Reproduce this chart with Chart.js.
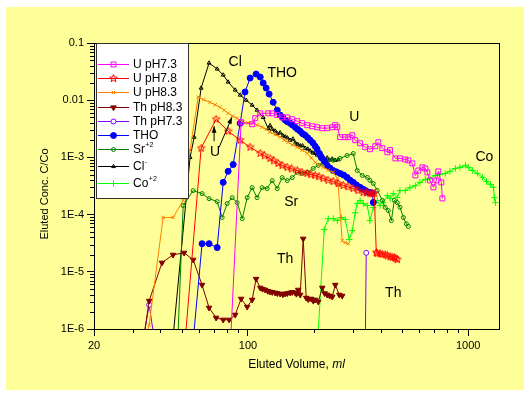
<!DOCTYPE html>
<html>
<head>
<meta charset="utf-8">
<script src="https://cdn.jsdelivr.net/npm/chart.js@4.4.1/dist/chart.umd.min.js"></script>
<style>
  html, body { margin: 0; padding: 0; background: #fff; }
</style>
</head>
<body>
<canvas id="elution" width="530" height="397"></canvas>
<script>
// eluted volume (ml) / C/Co
const uph73X = [83.2, 93.1, 104.5, 107.9, 113.7, 123.6, 128.9, 135.8, 143, 150.8, 158.9, 167.4, 176.3, 185.8, 195.8, 206.3, 217.5, 229, 241.5, 249.2, 254.5, 262, 276.6, 285.5, 297.7, 307, 323, 341, 358, 378.6, 391, 407.6, 429.5, 442, 467, 490, 518, 535, 557.5, 575.5, 594, 619.6, 639, 652.6, 670, 695.5, 717, 732, 755, 763.6];
const uph73Y = [5e-7, 0.00412, 0.0038, 0.00484, 0.0059, 0.0059, 0.0059, 0.0055, 0.005, 0.005, 0.00465, 0.0043, 0.00396, 0.00366, 0.0035, 0.00337, 0.00324, 0.00324, 0.00337, 0.00366, 0.00337, 0.00226, 0.00226, 0.00226, 0.00244, 0.002, 0.00177, 0.00151, 0.00139, 0.00157, 0.00184, 0.00145, 0.00123, 0.00134, 9.6e-4, 9.6e-4, 9.2e-4, 8.9e-4, 7.85e-4, 4.84e-4, 5.9e-4, 6.7e-4, 6.4e-4, 5.47e-4, 3.96e-4, 3.0e-4, 3.96e-4, 5.7e-4, 3.66e-4, 1.92e-4];

const uph78X = [51.6, 61.3, 71.7, 81.3, 92.2, 102.3, 113.7, 119, 126, 131, 137.2, 143, 150.8, 158, 167.4, 176, 185.8, 193, 202, 210, 219.6, 231, 244, 257, 271, 285, 300.7, 316, 334, 346, 358, 366, 374.6, 382.6, 386.6, 398, 407.6, 420, 429.5, 442, 452, 462, 469, 476.6];
const uph78Y = [5e-7, 0.00145, 0.00465, 0.00287, 0.002, 0.00151, 0.00118, 0.00107, 9.6e-4, 8.7e-4, 7.85e-4, 7.2e-4, 6.7e-4, 6.3e-4, 5.9e-4, 5.5e-4, 5.25e-4, 5.0e-4, 4.84e-4, 4.6e-4, 4.3e-4, 4.0e-4, 3.8e-4, 3.5e-4, 3.24e-4, 3.05e-4, 2.87e-4, 2.65e-4, 2.44e-4, 2.4e-4, 2.35e-4, 2.3e-4, 2.35e-4, 2.17e-5, 2.1e-5, 2.07e-5, 2.03e-5, 1.99e-5, 1.9e-5, 1.84e-5, 1.8e-5, 1.77e-5, 1.7e-5, 1.63e-5];

const uph83X = [33.4, 35.6, 41.2, 45.7, 50.8, 54.6, 59.4, 63, 67.3, 71, 74.8, 78, 81.3, 85, 89.3, 94.9, 100, 105.6, 110, 116, 121, 126, 133, 140, 146, 152.4, 159, 167.4, 176, 185.8, 194, 202, 210, 219.6, 231, 244, 254.5, 257, 267.9, 276.6, 285.5];
const uph83Y = [5e-7, 1.18e-6, 8.9e-5, 8.9e-5, 1.76e-4, 0.00134, 0.0113, 0.0102, 0.0092, 0.0083, 0.0075, 0.0067, 0.0059, 0.0053, 0.00484, 0.00412, 0.0040, 0.00396, 0.0037, 0.00337, 0.0031, 0.00276, 0.0025, 0.00226, 0.0020, 0.00184, 0.00166, 0.00151, 0.00134, 0.00118, 9.8e-4, 8.2e-4, 7.4e-4, 6.7e-4, 6.0e-4, 5.47e-4, 4.3e-4, 3.24e-4, 3.5e-5, 3.24e-5, 3.1e-5];

const thph83X = [33.2, 35.6, 40.7, 45.7, 51.3, 56.4, 61.9, 66.6, 71.7, 77.2, 82.2, 87.5, 93.1, 99.2, 104.5, 108.9, 113.7, 116.5, 119.7, 123, 126, 129, 132.9, 136, 140, 144, 147.6, 151, 155.6, 159, 163.9, 166, 169.1, 172.7, 178.2, 183.9, 188, 193.7, 198, 202, 208.6, 217.5, 223, 229, 235, 241.5, 249.2, 259.9, 267.9];
const thph83Y = [5e-7, 3.1e-6, 1.44e-5, 1.98e-5, 2.15e-5, 1.62e-5, 5.9e-6, 2.35e-6, 1.57e-6, 1.45e-6, 1.45e-6, 1.77e-6, 3.37e-6, 2.44e-6, 3.24e-6, 7.5e-6, 5.25e-6, 5.0e-6, 4.84e-6, 4.6e-6, 4.47e-6, 4.4e-6, 4.3e-6, 4.2e-6, 4.13e-6, 4.0e-6, 4.13e-6, 4.2e-6, 4.3e-6, 4.4e-6, 4.3e-6, 4.1e-6, 4.84e-6, 3.96e-6, 3.78e-5, 3.5e-6, 3.3e-6, 3.37e-6, 3.1e-6, 3.24e-6, 3.0e-6, 5.25e-6, 4.2e-6, 3.96e-6, 3.8e-6, 3.66e-6, 5.9e-6, 3.96e-6, 3.8e-6];

const thph73X = [33.1, 35.6, 38.0, 341, 344.4];
const thph73Y = [5e-7, 2.65e-6, 5e-7, 5e-7, 2.15e-5];

const thoX = [56.1, 61.9, 66.6, 72.5, 77.2, 81.3, 85.7, 92.2, 97.0, 102.3, 108.9, 113.7, 117.3, 121, 124.8, 130.2, 135.8, 140, 144, 147.6, 151, 155.6, 159, 163.9, 168, 172.7, 177, 182, 187, 191.7, 197, 202, 206, 210.8, 214, 217.5, 223, 229, 236, 244, 252, 262, 272, 282, 291, 300.7, 311, 323, 332, 341, 349, 358, 364, 366.9, 370.8];
const thoY = [5e-7, 3.1e-5, 3.1e-5, 2.65e-5, 3.66e-4, 5.7e-4, 7.5e-4, 0.00396, 0.0139, 0.0244, 0.0287, 0.0254, 0.02, 0.0163, 0.0128, 0.0092, 0.0067, 0.0055, 0.0050, 0.0045, 0.0042, 0.00396, 0.0037, 0.00337, 0.0031, 0.00287, 0.0026, 0.00244, 0.0022, 0.002, 0.0018, 0.00157, 0.0014, 0.00118, 0.00105, 9.6e-4, 8.5e-4, 7.25e-4, 6.5e-4, 5.9e-4, 5.6e-4, 5.25e-4, 4.9e-4, 4.47e-4, 4.0e-4, 3.66e-4, 3.3e-4, 3.0e-4, 2.8e-4, 2.65e-4, 2.5e-4, 2.44e-4, 2.4e-4, 2.35e-4, 1.63e-4];

const srX = [47.9, 50.8, 56.4, 61.9, 66.6, 72.5, 76.4, 80.5, 84.8, 89.3, 94.2, 99.2, 104.5, 110, 116, 122.2, 128.9, 135.8, 143, 150.8, 158.9, 167.4, 176.3, 185.8, 197.9, 208.6, 219.6, 231.6, 244, 262, 282, 300.7, 313.4, 330.5, 348.4, 358, 370.8, 386.6, 407.6, 420, 433.6, 447.7, 462, 476.6, 490, 507.6, 524, 535];
const srY = [5e-7, 1.44e-4, 2.63e-4, 2.33e-4, 1.9e-4, 1.69e-4, 8.9e-5, 1.56e-4, 1.98e-4, 1.62e-4, 8.5e-5, 1.98e-4, 2.96e-4, 1.98e-4, 2.96e-4, 2.85e-4, 3.93e-4, 2.85e-4, 4.43e-4, 3.93e-4, 4.43e-4, 5.47e-4, 5.25e-4, 5.47e-4, 6.4e-4, 7.25e-4, 7.85e-4, 8.9e-4, 8.9e-4, 9.6e-4, 1.08e-3, 1.17e-3, 5.9e-4, 4.84e-4, 4.47e-4, 3.96e-4, 3.5e-4, 2.65e-4, 1.77e-4, 1.34e-4, 1.18e-4, 7.85e-5, 1.77e-4, 1.62e-4, 1.34e-4, 8.9e-5, 6.9e-5, 6.2e-5];

const clX = [45.3, 54.6, 57.0, 61.3, 66.6, 72.5, 77.2, 81.3, 87.5, 92.2, 98.2, 104.5, 110, 117.3, 123.6, 126, 128.9, 132.9, 136, 140, 144, 147.6, 151, 155.6, 160, 163.9, 168, 172.7, 177, 182, 187, 191.7, 197, 202, 206, 210, 214, 218, 223, 229, 235, 241.5, 249, 257];
const clY = [5e-7, 1e-3, 2.26e-3, 0.0163, 0.0447, 0.0351, 0.0276, 0.0208, 0.0151, 0.0123, 0.01, 0.0082, 0.0067, 0.005, 0.0032, 0.0036, 0.0031, 0.0029, 0.0026, 0.0027, 0.0024, 0.0023, 0.0022, 0.002, 0.0021, 0.0018, 0.0017, 0.0016, 0.0016, 0.00145, 0.0014, 0.0013, 0.0012, 0.00118, 0.0011, 0.00125, 0.00095, 0.001, 0.00093, 0.00098, 0.0009, 0.00094, 0.00089, 0.00091];

const coX = [206.6, 222, 231.6, 244, 254.5, 265.4, 276.6, 288.4, 297.7, 307, 313.4, 323, 334, 348.4, 358, 370.8, 386.6, 398, 412, 429.5, 442, 457, 476.6, 490, 518, 544, 575.5, 604, 639, 670, 709.5, 744, 787, 826, 875, 917, 971, 1002, 1045, 1101, 1161, 1211, 1262, 1302, 1315, 1330];
const coY = [5e-7, 5.47e-5, 8.5e-5, 8.5e-5, 7.85e-5, 8.9e-5, 8.2e-5, 3.66e-5, 5.25e-5, 1.08e-4, 1.56e-4, 1.76e-4, 1.56e-4, 1.44e-4, 7.85e-5, 1.33e-4, 1.76e-4, 1.44e-4, 1.62e-4, 2.15e-4, 1.9e-4, 2.33e-4, 1.98e-4, 2.63e-4, 2.63e-4, 2.96e-4, 3.2e-4, 3.66e-4, 4.12e-4, 4.28e-4, 4.84e-4, 5.0e-4, 5.25e-4, 5.7e-4, 6.4e-4, 6.7e-4, 7.25e-4, 6.7e-4, 5.9e-4, 5.25e-4, 4.47e-4, 3.8e-4, 3.37e-4, 3.0e-4, 1.98e-4, 1.62e-4];

const xTicks = [20, 100, 1000];
const xTickLabels = ['20', '100', '1000'];
const yTicks = [1e-6, 1e-5, 1e-4, 1e-3, 0.01, 0.1];
const yTickLabels = ['1E-6', '1E-5', '1E-4', '1E-3', '0.01', '0.1'];
const legendSup = ['', '', '', '', '', '', '+2', '-', '+2'];

const FONT = 'Arial, "Liberation Sans", sans-serif';

function starImage(color) {
  const c = document.createElement('canvas');
  c.width = 9; c.height = 9;
  const g = c.getContext('2d');
  g.strokeStyle = color; g.lineWidth = 1;
  g.beginPath();
  for (let i = 0; i < 10; i++) {
    const r = i % 2 ? 1.7 : 4;
    const a = -Math.PI / 2 + i * Math.PI / 5;
    const px = 4.5 + r * Math.cos(a), py = 4.5 + r * Math.sin(a);
    if (i) g.lineTo(px, py); else g.moveTo(px, py);
  }
  g.closePath(); g.stroke();
  return c;
}

function series(label, xs, ys, color, style, extra) {
  return Object.assign({
    label: label,
    data: xs.map((x, i) => ({ x: x, y: ys[i] })),
    borderColor: color,
    backgroundColor: color,
    pointBorderColor: color,
    pointBackgroundColor: 'rgba(0,0,0,0)',
    pointStyle: style,
    pointRadius: 2.5,
    pointBorderWidth: 1,
    borderWidth: 1,
    tension: 0,
    fill: false
  }, extra || {});
}

const datasets = [
  series('U pH7.3', uph73X, uph73Y, '#FF00FF', 'rect', { pointRadius: 3.5 }),
  series('U pH7.8', uph78X, uph78Y, '#FF0000', starImage('#FF0000')),
  series('U pH8.3', uph83X, uph83Y, '#FF8000', 'crossRot', { pointRadius: 2.5 }),
  series('Th pH8.3', thph83X, thph83Y, '#800000', 'triangle', { pointRadius: 3.2, pointRotation: 180, pointBackgroundColor: '#800000' }),
  series('Th pH7.3', thph73X, thph73Y, '#8000FF', 'circle', { pointRadius: 2.5, pointBackgroundColor: '#fff' }),
  series('THO', thoX, thoY, '#0000FF', 'circle', { pointRadius: 3, pointBackgroundColor: '#0000FF' }),
  series('Sr', srX, srY, '#008000', 'circle', { pointRadius: 2 }),
  series('Cl', clX, clY, '#000000', 'triangle', { pointRadius: 2.2 }),
  series('Co', coX, coY, '#00FF00', 'cross', { pointRadius: 3.2 })
];

// labels placed in data space
const notes = [
  { text: 'Cl', x: 87.5, y: 0.0465 },
  { text: 'THO', x: 143, y: 0.03 },
  { text: 'U', x: 304, y: 0.00504 },
  { text: 'U', x: 70.9, y: 0.00123 },
  { text: 'Sr', x: 157.2, y: 1.62e-4 },
  { text: 'Co', x: 1185, y: 1e-3 },
  { text: 'Th', x: 147.6, y: 1.69e-5 },
  { text: 'Th', x: 457, y: 4.3e-6 }
];
const arrows = [
  { x1: 70.2, y1: 0.00192, x2: 70.2, y2: 0.00351 },
  { x1: 74, y1: 0.00151, x2: 84.6, y2: 0.00504 }
];

const framePlugin = {
  id: 'frame',
  beforeDraw(chart) {
    const ctx = chart.ctx;
    ctx.save();
    ctx.fillStyle = '#ffffff';
    ctx.fillRect(0, 0, chart.width, chart.height);
    ctx.fillStyle = '#FFFF99';
    ctx.fillRect(6, 7, 518, 383);
    ctx.restore();
  },
  afterDatasetsDraw(chart) {
    const ctx = chart.ctx;
    const a = chart.chartArea;
    const xs = chart.scales.x, ys = chart.scales.y;
    ctx.save();
    // plot frame
    ctx.strokeStyle = '#000';
    ctx.lineWidth = 1;
    ctx.strokeRect(Math.round(a.left) + 0.5, Math.round(a.top) + 0.5, Math.round(a.right - a.left), Math.round(a.bottom - a.top));
    // minor ticks
    ctx.beginPath();
    for (let d = 10; d <= 1000; d *= 10) {
      for (let m = 2; m <= 9; m++) {
        const v = m * d;
        if (v <= 20 || v >= xs.max) continue;
        const px = Math.round(xs.getPixelForValue(v)) + 0.5;
        ctx.moveTo(px, a.bottom); ctx.lineTo(px, a.bottom + 4);
      }
    }
    for (let d = 1e-6; d < 0.1; d *= 10) {
      for (let m = 2; m <= 9; m++) {
        const py = Math.round(ys.getPixelForValue(m * d)) + 0.5;
        ctx.moveTo(a.left - 4, py); ctx.lineTo(a.left, py);
      }
    }
    ctx.stroke();

    // legend box
    const L = a.left + 2, T = a.top;
    ctx.fillStyle = '#fff';
    ctx.fillRect(L, T, 92, 155);
    ctx.strokeStyle = '#333';
    ctx.strokeRect(L + 0.5, T + 0.5, 92, 155);
    const rows = [21, 35, 49, 64, 78, 92, 106, 123, 140];
    chart.data.datasets.forEach((ds, i) => {
      const y = T + rows[i];
      ctx.strokeStyle = ds.borderColor;
      ctx.lineWidth = 1;
      ctx.beginPath();
      ctx.moveTo(L + 2, y + 0.5); ctx.lineTo(L + 33, y + 0.5);
      ctx.stroke();
      ctx.fillStyle = ds.pointBackgroundColor;
      ctx.strokeStyle = ds.pointBorderColor;
      Chart.helpers.drawPoint(ctx, {
        pointStyle: ds.pointStyle,
        radius: ds.pointRadius,
        rotation: ds.pointRotation || 0,
        borderWidth: 1
      }, L + 17.5, y + 0.5);
      ctx.fillStyle = '#000';
      ctx.font = '12px ' + FONT;
      ctx.textBaseline = 'middle';
      ctx.textAlign = 'left';
      ctx.fillText(ds.label, L + 37, y + 1);
      if (legendSup[i]) {
        const w = ctx.measureText(ds.label).width;
        ctx.font = '7px ' + FONT;
        ctx.fillText(legendSup[i], L + 37 + w + 0.5, y - 4);
      }
    });

    // curve labels
    ctx.fillStyle = '#000';
    ctx.font = '14px ' + FONT;
    ctx.textAlign = 'center';
    ctx.textBaseline = 'middle';
    notes.forEach(n => {
      ctx.fillText(n.text, xs.getPixelForValue(n.x), ys.getPixelForValue(n.y));
    });
    ctx.strokeStyle = '#000';
    ctx.lineWidth = 1;
    arrows.forEach(r => {
      const x1 = xs.getPixelForValue(r.x1), y1 = ys.getPixelForValue(r.y1);
      const x2 = xs.getPixelForValue(r.x2), y2 = ys.getPixelForValue(r.y2);
      const ang = Math.atan2(y2 - y1, x2 - x1);
      ctx.beginPath();
      ctx.moveTo(x1, y1); ctx.lineTo(x2, y2);
      ctx.stroke();
      ctx.beginPath();
      ctx.moveTo(x2, y2);
      ctx.lineTo(x2 - 7 * Math.cos(ang - 0.35), y2 - 7 * Math.sin(ang - 0.35));
      ctx.lineTo(x2 - 7 * Math.cos(ang + 0.35), y2 - 7 * Math.sin(ang + 0.35));
      ctx.closePath();
      ctx.fill();
    });

    // axis titles
    ctx.font = '12px ' + FONT;
    ctx.textAlign = 'left';
    ctx.textBaseline = 'middle';
    const t1 = 'Eluted Volume, ';
    const w1 = ctx.measureText(t1).width;
    ctx.font = 'italic 12px ' + FONT;
    const w2 = ctx.measureText('ml').width;
    const cx = (a.left + a.right) / 2;
    ctx.font = '12px ' + FONT;
    ctx.fillText(t1, cx - (w1 + w2) / 2, 365);
    ctx.font = 'italic 12px ' + FONT;
    ctx.fillText('ml', cx - (w1 + w2) / 2 + w1, 365);

    ctx.translate(45, (a.top + a.bottom) / 2 + 8);
    ctx.rotate(-Math.PI / 2);
    ctx.font = '11px ' + FONT;
    ctx.textAlign = 'center';
    ctx.fillText('Eluted Conc. C/Co', 0, 0);
    ctx.restore();
  }
};

new Chart(document.getElementById('elution'), {
  type: 'line',
  data: { datasets: datasets },
  options: {
    responsive: false,
    animation: false,
    devicePixelRatio: 1,
    layout: { padding: { top: 43, right: 31, left: 0, bottom: 0 } },
    plugins: { legend: { display: false }, tooltip: { enabled: false } },
    scales: {
      x: {
        type: 'logarithmic',
        min: 20,
        max: 1380,
        afterBuildTicks: s => { s.ticks = xTicks.map(v => ({ value: v })); },
        afterFit: s => { s.height = 68; },
        ticks: {
          callback: (v, i) => xTickLabels[i],
          font: { family: FONT, size: 11 },
          color: '#000',
          padding: 3,
          maxRotation: 0,
          autoSkip: false
        },
        grid: { drawOnChartArea: false, tickLength: 7, color: '#000', tickColor: '#000' },
        border: { color: '#000', width: 1 }
      },
      y: {
        type: 'logarithmic',
        min: 1e-6,
        max: 0.1,
        afterBuildTicks: s => { s.ticks = yTicks.map(v => ({ value: v })); },
        afterFit: s => { s.width = 94; },
        ticks: {
          callback: (v, i) => yTickLabels[i],
          font: { family: FONT, size: 11 },
          color: '#000',
          padding: 3,
          autoSkip: false
        },
        grid: { drawOnChartArea: false, tickLength: 7, color: '#000', tickColor: '#000' },
        border: { color: '#000', width: 1 }
      }
    }
  },
  plugins: [framePlugin]
});
</script>
</body>
</html>
